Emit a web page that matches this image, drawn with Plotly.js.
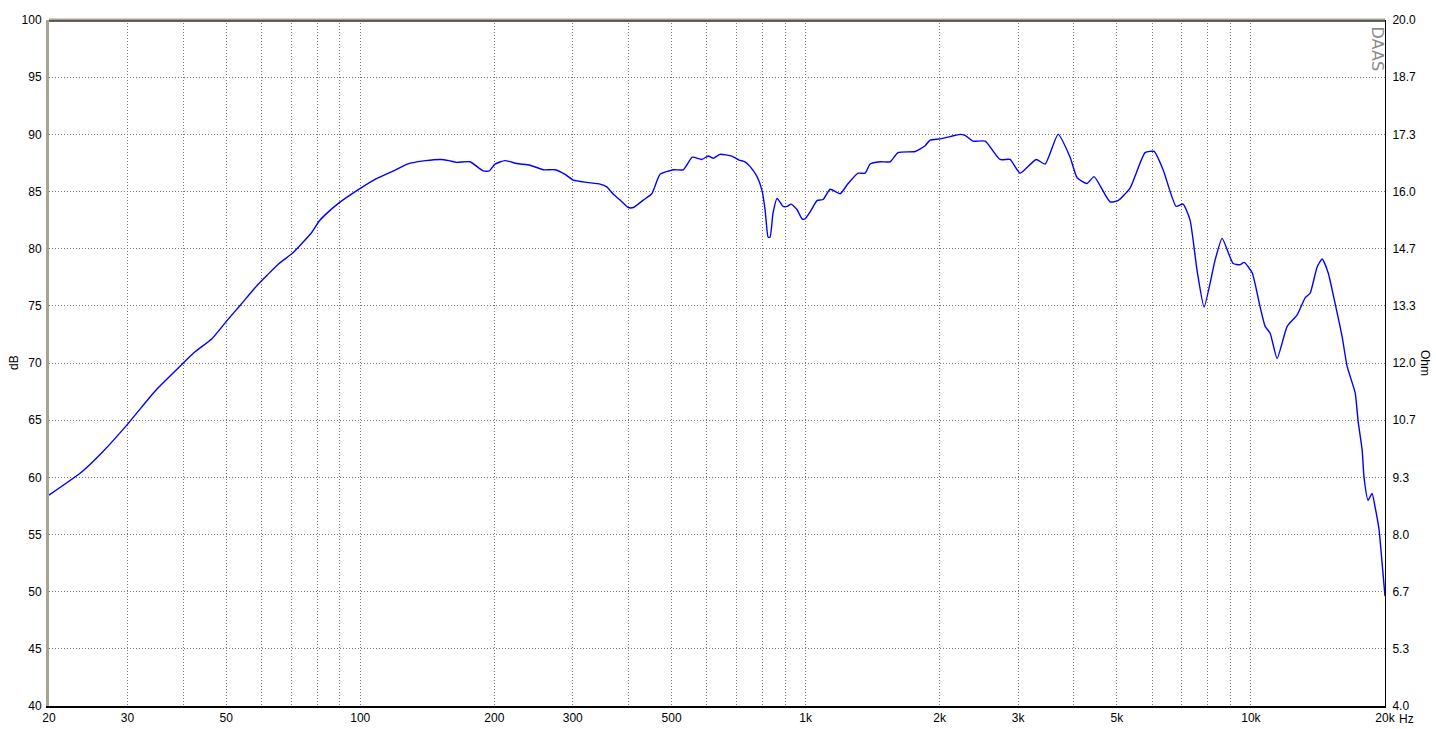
<!DOCTYPE html>
<html>
<head>
<meta charset="utf-8">
<script src="https://cdn.plot.ly/plotly-3.0.1.min.js"></script>
<style>
html,body{margin:0;padding:0;background:#fff;}
#chart{width:1436px;height:729px;}
</style>
</head>
<body>
<div id="chart"></div>
<script>
// Frequency (Hz) and SPL (dB)
const freqHz = [20,23.56,26.35,30.1,33.5,35.3,39.8,42.3,46.5,50.3,53.9,58.7,61.85,65.7,70.4,74.1,77.4,80.8,83.6,89.6,99.4,108.4,120.1,127.5,140.3,151.6,158.2,164.6,176.4,188.9,194.9,200.7,211.4,224.6,240.6,257.7,273.8,288.3,300.9,322.6,345.5,357.7,370.1,383.2,400,410.4,432.2,451.4,471.2,504.5,531.3,556.6,584.3,604.7,620.5,642.4,682.6,708.8,731,750,778,798,811,824,832,845,863,890,909,928,957,982,997,1023,1061,1095,1135,1195,1246,1312,1360,1396,1470,1548,1613,1761,1855,1903,2004,2110,2222,2281,2377,2530,2733,2878,3032,3293,3449,3690,3926,4071,4286,4444,4826,5030,5352,5786,6062,6350,6791,7040,7300,7568,7849,8308,8616,9120,9456,9654,10062,10486,10762,11044,11450,12060,12698,13234,13580,14082,14452,14906,15454,16024,16444,17138,17406,17770,17954,18326,18708,19002,19396,19702,20000];
const splDb = [58.45,60.4,62.2,64.7,66.9,67.9,69.9,70.9,72.15,73.75,75.1,76.8,77.7,78.7,79.6,80.5,81.3,82.4,83.0,84.0,85.2,86.1,86.9,87.4,87.7,87.8,87.7,87.55,87.6,86.8,86.8,87.4,87.7,87.45,87.3,86.9,86.9,86.5,86.0,85.8,85.65,85.4,84.75,84.25,83.6,83.6,84.25,84.8,86.5,86.9,86.9,88.0,87.8,88.1,87.9,88.25,88.1,87.75,87.6,87.2,86.3,85.1,83.4,81.0,81.0,83.1,84.4,83.7,83.7,83.9,83.4,82.6,82.6,83.2,84.2,84.3,85.2,84.8,85.7,86.6,86.6,87.4,87.6,87.6,88.4,88.5,89.0,89.5,89.6,89.8,90.0,89.9,89.4,89.4,87.8,87.8,86.6,87.8,87.4,90.0,88.0,86.2,85.7,86.3,84.1,84.2,85.3,88.4,88.5,86.9,83.7,83.9,82.5,78.1,74.9,79.0,80.9,78.7,78.6,78.8,77.9,74.9,73.2,72.6,70.4,73.2,74.2,75.7,76.1,78.4,79.1,77.9,75.2,72.3,69.7,67.4,64.9,62.4,59.9,58.0,58.6,57.4,55.4,52.5,49.6];

// Axis ticks
const xGridVals = [20,30,40,50,60,70,80,90,100,200,300,400,500,600,700,800,900,1000,2000,3000,4000,5000,6000,7000,8000,9000,10000,20000];
const xLabelMap = {20:"20",30:"30",50:"50",100:"100",200:"200",300:"300",500:"500",1000:"1k",2000:"2k",3000:"3k",5000:"5k",10000:"10k",20000:"20k"};
const dbTicks = [40,45,50,55,60,65,70,75,80,85,90,95,100];
const ohmTicks = ["4.0","5.3","6.7","8.0","9.3","10.7","12.0","13.3","14.7","16.0","17.3","18.7","20.0"];

const xText = xGridVals.map(v => xLabelMap[v] || "");
const ohmVals = ohmTicks.map((t,i) => 4 + 16*i/12);

const font = {family:"Liberation Sans, Arial, sans-serif", size:12, color:"#000"};
const tan = "#a8a494";
const gridDash = "1px,2px";

const data = [
  {
    x: freqHz, y: splDb, type:"scatter", mode:"lines",
    line:{color:"#0000ff", width:1.4, shape:"spline", smoothing:0.5},
    hoverinfo:"skip", showlegend:false
  },
  {
    // empty trace so the impedance (Ohm) axis is drawn
    x: [], y: [], type:"scatter", mode:"lines", yaxis:"y2",
    hoverinfo:"skip", showlegend:false
  }
];

const layout = {
  width:1436, height:729,
  margin:{l:49, r:51, t:20, b:23},
  paper_bgcolor:"#fff", plot_bgcolor:"#fff",
  font: font,
  showlegend:false,
  xaxis:{
    type:"log", range:[Math.log10(20), Math.log10(20000)],
    tickmode:"array", tickvals:xGridVals, ticktext:xText,
    showgrid:true, gridcolor:"#7a7a7a", griddash:gridDash, gridwidth:1,
    ticks:"", showline:true, linecolor:"#000", linewidth:2,
    zeroline:false, tickfont:font, fixedrange:true
  },
  yaxis:{
    range:[40,100], tickmode:"array", tickvals:dbTicks,
    showgrid:true, gridcolor:"#7a7a7a", griddash:gridDash, gridwidth:1,
    ticks:"", showline:true, linecolor:tan, linewidth:3,
    zeroline:false, tickfont:font, ticklabelstandoff:2, fixedrange:true
  },
  yaxis2:{
    overlaying:"y", side:"right", anchor:"x",
    range:[4,20], tickmode:"array", tickvals:ohmVals, ticktext:ohmTicks,
    showgrid:false, ticks:"", showline:true, linecolor:"#000", linewidth:1,
    zeroline:false, tickfont:font, ticklabelstandoff:4, fixedrange:true
  },
  shapes:[
    {type:"line", xref:"paper", yref:"paper", x0:0, x1:1, y0:1, y1:1,
     line:{color:tan, width:3}, layer:"above"},
    {type:"line", xref:"paper", yref:"paper", x0:0, x1:1, y0:0.9985, y1:0.9985,
     line:{color:"#000", width:1}, layer:"above"}
  ],
  annotations:[
    {text:"dB", xref:"paper", yref:"paper", x:0, y:0.5, xshift:-35, xanchor:"center",
     yanchor:"middle", textangle:-90, showarrow:false, font:font},
    {text:"Ohm", xref:"paper", yref:"paper", x:1, y:0.5, xshift:40, xanchor:"center",
     yanchor:"middle", textangle:90, showarrow:false, font:font},
    {text:"DAAS", xref:"paper", yref:"paper", x:1, y:1, xshift:-8, yshift:-4,
     xanchor:"center", yanchor:"top", textangle:90, showarrow:false,
     font:{family:"DejaVu Sans, sans-serif", size:16, color:"#8c8c8c"}},
    {text:"Hz", xref:"paper", yref:"paper", x:1, y:0, xshift:12, yshift:-4,
     xanchor:"left", yanchor:"top", showarrow:false, font:font}
  ]
};

Plotly.newPlot("chart", data, layout, {staticPlot:true, displayModeBar:false});
</script>
</body>
</html>
